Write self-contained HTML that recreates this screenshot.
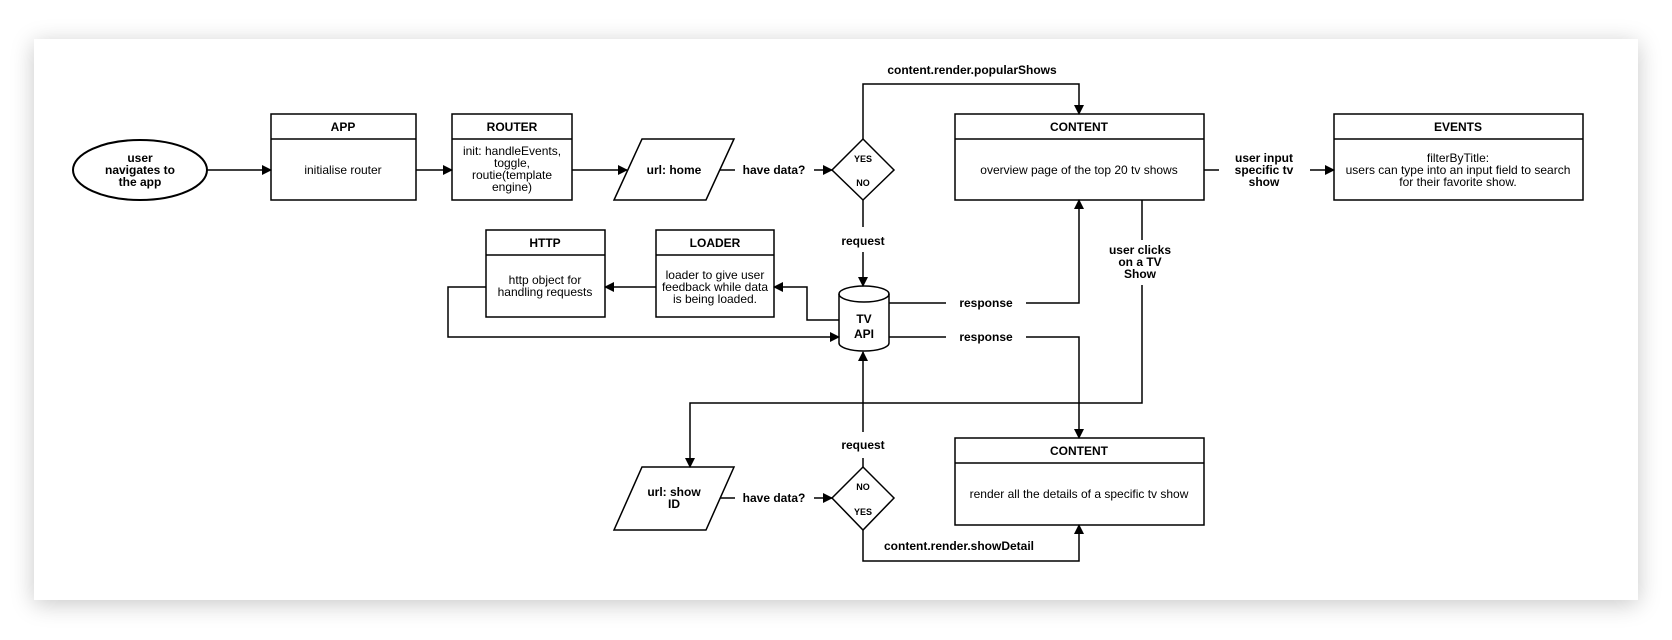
<!DOCTYPE html>
<html><head><meta charset="utf-8"><style>
html,body{margin:0;padding:0;background:#fff;}
body{width:1672px;height:640px;overflow:hidden;position:relative;font-family:"Liberation Sans",sans-serif;}
.card{position:absolute;left:34px;top:39px;width:1604px;height:561px;background:#fff;box-shadow:0 4px 22px rgba(0,0,0,0.22);}
svg{position:absolute;left:0;top:0;}
text{font-family:"Liberation Sans",sans-serif;font-size:12px;fill:#000;}
.b{font-weight:bold;}
</style></head><body>
<div class="card"></div>
<svg width="1672" height="640" viewBox="0 0 1672 640">
<defs><marker id="a" markerWidth="10" markerHeight="10" refX="9" refY="5" orient="auto" markerUnits="userSpaceOnUse"><path d="M0,0 L10,5 L0,10 z" fill="#000"/></marker></defs>
<g fill="none" stroke="#000" stroke-width="1.5">
<ellipse cx="140" cy="170" rx="67" ry="30" stroke-width="2"/>
<rect x="271" y="114" width="145" height="86"/><line x1="271" y1="139" x2="416" y2="139"/>
<rect x="452" y="114" width="120" height="86"/><line x1="452" y1="139" x2="572" y2="139"/>
<polygon points="642,139 734,139 706,200 614,200"/>
<polygon points="863,139 894,170 863,200 832,170"/>
<rect x="955" y="114" width="249" height="86"/><line x1="955" y1="139" x2="1204" y2="139"/>
<rect x="1334" y="114" width="249" height="86"/><line x1="1334" y1="139" x2="1583" y2="139"/>
<rect x="486" y="230" width="119" height="87"/><line x1="486" y1="255" x2="605" y2="255"/>
<rect x="656" y="230" width="118" height="87"/><line x1="656" y1="255" x2="774" y2="255"/>
<path d="M839,294 L839,343 A25,8 0 0 0 889,343 L889,294"/><ellipse cx="864" cy="294" rx="25" ry="8"/>
<polygon points="642,467 734,467 706,530 614,530"/>
<polygon points="863,467 894,498 863,530 832,498"/>
<rect x="955" y="438" width="249" height="87"/><line x1="955" y1="463" x2="1204" y2="463"/>
<line x1="207" y1="170" x2="271" y2="170" marker-end="url(#a)"/>
<line x1="416" y1="170" x2="452" y2="170" marker-end="url(#a)"/>
<line x1="572" y1="170" x2="627" y2="170" marker-end="url(#a)"/>
<line x1="720" y1="170" x2="735" y2="170"/>
<line x1="814" y1="170" x2="832" y2="170" marker-end="url(#a)"/>
<polyline points="863,139 863,84 1079,84 1079,114" marker-end="url(#a)"/>
<line x1="863" y1="200" x2="863" y2="227"/>
<line x1="863" y1="252" x2="863" y2="286" marker-end="url(#a)"/>
<polyline points="889,303 946,303"/><polyline points="1026,303 1079,303 1079,200" marker-end="url(#a)"/>
<polyline points="889,337 946,337"/><polyline points="1026,337 1079,337 1079,438" marker-end="url(#a)"/>
<polyline points="839,320 807,320 807,287 774,287" marker-end="url(#a)"/>
<line x1="656" y1="287" x2="605" y2="287" marker-end="url(#a)"/>
<polyline points="486,287 448,287 448,337 839,337" marker-end="url(#a)"/>
<line x1="1142" y1="200" x2="1142" y2="240"/>
<polyline points="1142,285 1142,403 690,403 690,467" marker-end="url(#a)"/>
<line x1="720" y1="498" x2="735" y2="498"/>
<line x1="814" y1="498" x2="832" y2="498" marker-end="url(#a)"/>
<line x1="863" y1="467" x2="863" y2="458"/>
<line x1="863" y1="432" x2="863" y2="352" marker-end="url(#a)"/>
<polyline points="863,530 863,561 1079,561 1079,525" marker-end="url(#a)"/>
<line x1="1204" y1="170" x2="1219" y2="170"/>
<line x1="1310" y1="170" x2="1334" y2="170" marker-end="url(#a)"/>
</g>
<g text-anchor="middle">
<text class="b" x="140" y="162">user</text><text class="b" x="140" y="174">navigates to</text><text class="b" x="140" y="186">the app</text>
<text class="b" x="343" y="131">APP</text><text x="343" y="174">initialise router</text>
<text class="b" x="512" y="131">ROUTER</text>
<text x="512" y="155">init: handleEvents,</text><text x="512" y="167">toggle,</text><text x="512" y="179">routie(template</text><text x="512" y="191">engine)</text>
<text class="b" x="674" y="174">url: home</text>
<text class="b" x="774" y="174">have data?</text>
<text class="b" x="863" y="162" style="font-size:9px">YES</text><text class="b" x="863" y="186" style="font-size:9px">NO</text>
<text class="b" x="972" y="74">content.render.popularShows</text>
<text class="b" x="1079" y="131">CONTENT</text><text x="1079" y="174">overview page of the top 20 tv shows</text>
<text class="b" x="1264" y="162">user input</text><text class="b" x="1264" y="174">specific tv</text><text class="b" x="1264" y="186">show</text>
<text class="b" x="1458" y="131">EVENTS</text>
<text x="1458" y="162">filterByTitle:</text><text x="1458" y="174">users can type into an input field to search</text><text x="1458" y="186">for their favorite show.</text>
<text class="b" x="863" y="245">request</text>
<text class="b" x="545" y="247">HTTP</text><text x="545" y="284">http object for</text><text x="545" y="296">handling requests</text>
<text class="b" x="715" y="247">LOADER</text><text x="715" y="279">loader to give user</text><text x="715" y="291">feedback while data</text><text x="715" y="303">is being loaded.</text>
<text class="b" x="864" y="323">TV</text><text class="b" x="864" y="338">API</text>
<text class="b" x="986" y="307">response</text><text class="b" x="986" y="341">response</text>
<text class="b" x="1140" y="254">user clicks</text><text class="b" x="1140" y="266">on a TV</text><text class="b" x="1140" y="278">Show</text>
<text class="b" x="863" y="449">request</text>
<text class="b" x="674" y="496">url: show</text><text class="b" x="674" y="508">ID</text>
<text class="b" x="774" y="502">have data?</text>
<text class="b" x="863" y="490" style="font-size:9px">NO</text><text class="b" x="863" y="515" style="font-size:9px">YES</text>
<text class="b" x="1079" y="455">CONTENT</text><text x="1079" y="498">render all the details of a specific tv show</text>
<text class="b" x="959" y="550">content.render.showDetail</text>
</g>
</svg>
</body></html>
